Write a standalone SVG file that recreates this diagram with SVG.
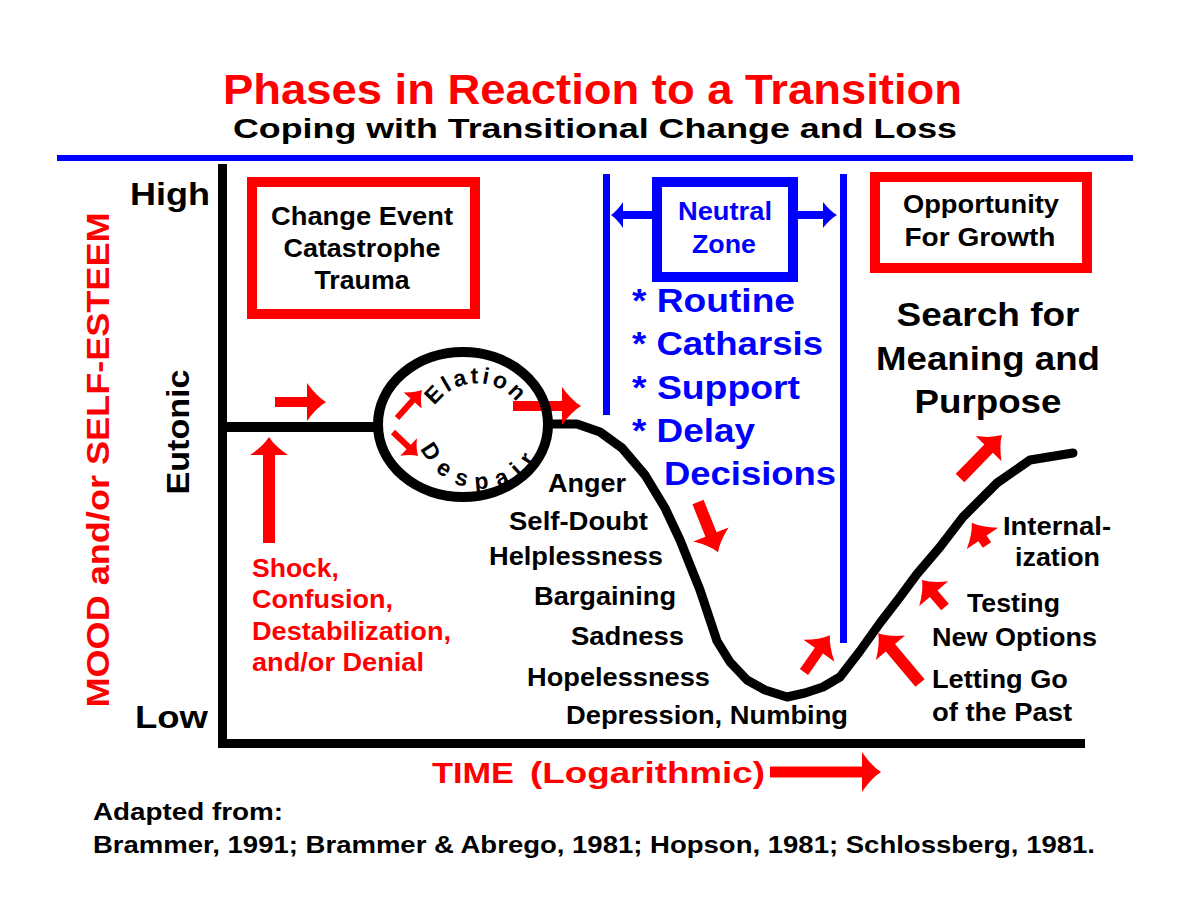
<svg xmlns="http://www.w3.org/2000/svg" width="1200" height="908" viewBox="0 0 1200 908">
<defs>
<style>
.t{font-family:"Liberation Sans",Arial,sans-serif;font-weight:bold}
.r{fill:#ff0000}.b{fill:#0000ff}.k{fill:#000}
.ra{fill:#ff0000}.ba{fill:#0000ff}
.rbox{fill:#fff;stroke:#ff0000;stroke-width:10}
.bbox{fill:#fff;stroke:#0000ff;stroke-width:10}
</style>
<path id="elPath" d="M434.2,406.7 A51,51 0 0 1 522.2,410.5" fill="none"/>
<path id="dePath" d="M420.6,447.4 A65,65 0 0 0 543.1,443.2" fill="none"/>
</defs>
<rect width="1200" height="908" fill="#fff"/>

<g id="title">
<text class="t r" x="223" y="104" font-size="42" textLength="739" lengthAdjust="spacingAndGlyphs">Phases in Reaction to a Transition</text>
<text class="t k" x="233" y="138" font-size="28" textLength="724" lengthAdjust="spacingAndGlyphs">Coping with Transitional Change and Loss</text>
<rect x="57" y="155" width="1076" height="6" fill="#0000ff"/>
</g>

<g id="axes">
<rect x="218" y="164" width="9" height="584" fill="#000"/>
<rect x="218" y="739" width="867" height="9" fill="#000"/>
<text class="t k" x="130" y="205" font-size="32" textLength="80" lengthAdjust="spacingAndGlyphs">High</text>
<text class="t k" x="135" y="728" font-size="32" textLength="73" lengthAdjust="spacingAndGlyphs">Low</text>
<text class="t k" font-size="32" text-anchor="middle" textLength="125" lengthAdjust="spacingAndGlyphs" transform="translate(189,432) rotate(-90)">Eutonic</text>
<text class="t r" font-size="32" text-anchor="middle" textLength="495" lengthAdjust="spacingAndGlyphs" transform="translate(109,460) rotate(-90)">MOOD and/or SELF-ESTEEM</text>
</g>

<g id="connectors" fill="none" stroke="#000" stroke-linejoin="round" stroke-linecap="round">
<line x1="227" y1="427" x2="378" y2="427" stroke-width="10" stroke-linecap="butt"/>
<polyline stroke-width="9" points="548,424 577,424 600,432 622,448 645,475 665,508 680,540 700,590 717,641 730,662 747,680 765,690 787,697 805,693 823,687 840,677 860,651 880,623 900,597 917,574 940,547 963,517 997,483 1030,460 1073,453"/>
<path class="ra" stroke="none" transform="translate(275,402)" d="M0,-5 H32 V-19 Q41.5,-5.7 51,0 Q41.5,5.7 32,19 V5 H0 Z"/>
<path class="ra" stroke="none" transform="translate(269,543) rotate(-90)" d="M0,-6 H88 V-19 Q97,-5.7 106,0 Q97,5.7 88,19 V6 H0 Z"/>
<path class="ra" stroke="none" transform="translate(397,418) rotate(-48.2)" d="M0,-3 H23.5 V-12 Q30.5,-3.6 37.5,0 Q30.5,3.6 23.5,12 V3 H0 Z"/>
<path class="ra" stroke="none" transform="translate(393,432) rotate(43.8)" d="M0,-3 H21.7 V-12 Q28.2,-3.6 34.7,0 Q28.2,3.6 21.7,12 V3 H0 Z"/>
<path class="ra" stroke="none" transform="translate(513,406)" d="M0,-5 H49 V-19 Q58.5,-5.7 68,0 Q58.5,5.7 49,19 V5 H0 Z"/>
<path class="ra" stroke="none" transform="translate(698,502) rotate(68.2)" d="M0,-6 H35 V-19 Q44.5,-5.7 54,0 Q44.5,5.7 35,19 V6 H0 Z"/>
<path class="ra" stroke="none" transform="translate(804,672) rotate(-54.9)" d="M0,-5 H26 V-19 Q35.5,-5.7 45,0 Q35.5,5.7 26,19 V5 H0 Z"/>
<path class="ra" stroke="none" transform="translate(920,683) rotate(-130)" d="M0,-6 H46 V-19 Q55.5,-5.7 65,0 Q55.5,5.7 46,19 V6 H0 Z"/>
<path class="ra" stroke="none" transform="translate(945,607) rotate(-130.4)" d="M0,-5 H17.5 V-19 Q26.5,-5.7 35.5,0 Q26.5,5.7 17.5,19 V5 H0 Z"/>
<path class="ra" stroke="none" transform="translate(987,545) rotate(-124.3)" d="M0,-5 H8 V-19 Q17.5,-5.7 27,0 Q17.5,5.7 8,19 V5 H0 Z"/>
<path class="ra" stroke="none" transform="translate(960,478) rotate(-45.7)" d="M0,-6 H41 V-18 Q50.5,-5.4 60,0 Q50.5,5.4 41,18 V6 H0 Z"/>
<path class="ra" stroke="none" transform="translate(770,772)" d="M0,-5.5 H92 V-20 Q101.5,-6 111,0 Q101.5,6 92,20 V5.5 H0 Z"/>
<path class="ba" stroke="none" transform="translate(652,215) rotate(180)" d="M0,-4 H29 V-13 Q35,-4 41,0 Q35,4 29,13 V4 H0 Z"/>
<path class="ba" stroke="none" transform="translate(798,215)" d="M0,-4 H25 V-13 Q32,-4 39,0 Q32,4 25,13 V4 H0 Z"/>
<rect x="603" y="174" width="7" height="241" fill="#0000ff" stroke="none"/>
<rect x="840" y="174" width="7" height="469" fill="#0000ff" stroke="none"/>
</g>

<g id="node-ellipse">
<ellipse cx="463" cy="424.5" rx="85" ry="72.5" fill="none" stroke="#000" stroke-width="10"/>
<text class="t k" font-size="23" letter-spacing="3"><textPath href="#elPath" startOffset="1">Elation</textPath></text>
<text class="t k" font-size="23" letter-spacing="9.5"><textPath href="#dePath" startOffset="1">Despair</textPath></text>
</g>

<g id="node-change">
<rect class="rbox" x="252" y="182" width="223" height="132"/>
<text class="t k" x="362" y="225" font-size="25" text-anchor="middle" textLength="182" lengthAdjust="spacingAndGlyphs">Change Event</text>
<text class="t k" x="362" y="257" font-size="25" text-anchor="middle" textLength="157" lengthAdjust="spacingAndGlyphs">Catastrophe</text>
<text class="t k" x="362" y="289" font-size="25" text-anchor="middle" textLength="95" lengthAdjust="spacingAndGlyphs">Trauma</text>
</g>

<g id="node-opportunity">
<rect class="rbox" x="875" y="177" width="212" height="91"/>
<text class="t k" x="981" y="213" font-size="25" text-anchor="middle" textLength="156" lengthAdjust="spacingAndGlyphs">Opportunity</text>
<text class="t k" x="980" y="246" font-size="25" text-anchor="middle" textLength="151" lengthAdjust="spacingAndGlyphs">For Growth</text>
</g>

<g id="node-neutral">
<rect class="bbox" x="657" y="182" width="136" height="95"/>
<text class="t b" x="725" y="220" font-size="25" text-anchor="middle" textLength="94" lengthAdjust="spacingAndGlyphs">Neutral</text>
<text class="t b" x="724" y="253" font-size="25" text-anchor="middle" textLength="64" lengthAdjust="spacingAndGlyphs">Zone</text>
</g>

<g id="node-neutral-list">
<text class="t b" x="632" y="312" font-size="34" textLength="163" lengthAdjust="spacingAndGlyphs">* Routine</text>
<text class="t b" x="632" y="355" font-size="34" textLength="191" lengthAdjust="spacingAndGlyphs">* Catharsis</text>
<text class="t b" x="632" y="399" font-size="34" textLength="168" lengthAdjust="spacingAndGlyphs">* Support</text>
<text class="t b" x="632" y="442" font-size="34" textLength="123" lengthAdjust="spacingAndGlyphs">* Delay</text>
<text class="t b" x="664" y="485" font-size="34" textLength="172" lengthAdjust="spacingAndGlyphs">Decisions</text>
</g>

<g id="node-search">
<text class="t k" x="988" y="326" font-size="33" text-anchor="middle" textLength="183" lengthAdjust="spacingAndGlyphs">Search for</text>
<text class="t k" x="988" y="370" font-size="33" text-anchor="middle" textLength="224" lengthAdjust="spacingAndGlyphs">Meaning and</text>
<text class="t k" x="988" y="413" font-size="33" text-anchor="middle" textLength="147" lengthAdjust="spacingAndGlyphs">Purpose</text>
</g>

<g id="node-shock">
<text class="t r" x="252" y="577" font-size="25" textLength="87" lengthAdjust="spacingAndGlyphs">Shock,</text>
<text class="t r" x="252" y="608" font-size="25" textLength="141" lengthAdjust="spacingAndGlyphs">Confusion,</text>
<text class="t r" x="252" y="640" font-size="25" textLength="199" lengthAdjust="spacingAndGlyphs">Destabilization,</text>
<text class="t r" x="252" y="671" font-size="25" textLength="172" lengthAdjust="spacingAndGlyphs">and/or Denial</text>
</g>

<g id="node-decline">
<text class="t k" x="548" y="492" font-size="25" textLength="78" lengthAdjust="spacingAndGlyphs">Anger</text>
<text class="t k" x="509" y="530" font-size="25" textLength="139" lengthAdjust="spacingAndGlyphs">Self-Doubt</text>
<text class="t k" x="489" y="565" font-size="25" textLength="174" lengthAdjust="spacingAndGlyphs">Helplessness</text>
<text class="t k" x="534" y="605" font-size="25" textLength="142" lengthAdjust="spacingAndGlyphs">Bargaining</text>
<text class="t k" x="571" y="645" font-size="25" textLength="113" lengthAdjust="spacingAndGlyphs">Sadness</text>
<text class="t k" x="527" y="686" font-size="25" textLength="183" lengthAdjust="spacingAndGlyphs">Hopelessness</text>
<text class="t k" x="566" y="724" font-size="25" textLength="282" lengthAdjust="spacingAndGlyphs">Depression, Numbing</text>
</g>

<g id="node-recovery">
<text class="t k" x="1003" y="535" font-size="25" textLength="108" lengthAdjust="spacingAndGlyphs">Internal-</text>
<text class="t k" x="1015" y="566" font-size="25" textLength="85" lengthAdjust="spacingAndGlyphs">ization</text>
<text class="t k" x="967" y="612" font-size="25" textLength="93" lengthAdjust="spacingAndGlyphs">Testing</text>
<text class="t k" x="932" y="646" font-size="25" textLength="165" lengthAdjust="spacingAndGlyphs">New Options</text>
<text class="t k" x="932" y="688" font-size="25" textLength="136" lengthAdjust="spacingAndGlyphs">Letting Go</text>
<text class="t k" x="932" y="721" font-size="25" textLength="140" lengthAdjust="spacingAndGlyphs">of the Past</text>
</g>

<g id="node-time">
<text class="t r" y="783" font-size="29"><tspan x="432" textLength="82" lengthAdjust="spacingAndGlyphs">TIME</tspan><tspan x="530" textLength="235" lengthAdjust="spacingAndGlyphs">(Logarithmic)</tspan></text>
</g>

<g id="node-source">
<text class="t k" x="93" y="820" font-size="23" textLength="190" lengthAdjust="spacingAndGlyphs">Adapted from:</text>
<text class="t k" x="93" y="853" font-size="23" textLength="1002" lengthAdjust="spacingAndGlyphs">Brammer, 1991; Brammer &amp; Abrego, 1981; Hopson, 1981; Schlossberg, 1981.</text>
</g>
</svg>
